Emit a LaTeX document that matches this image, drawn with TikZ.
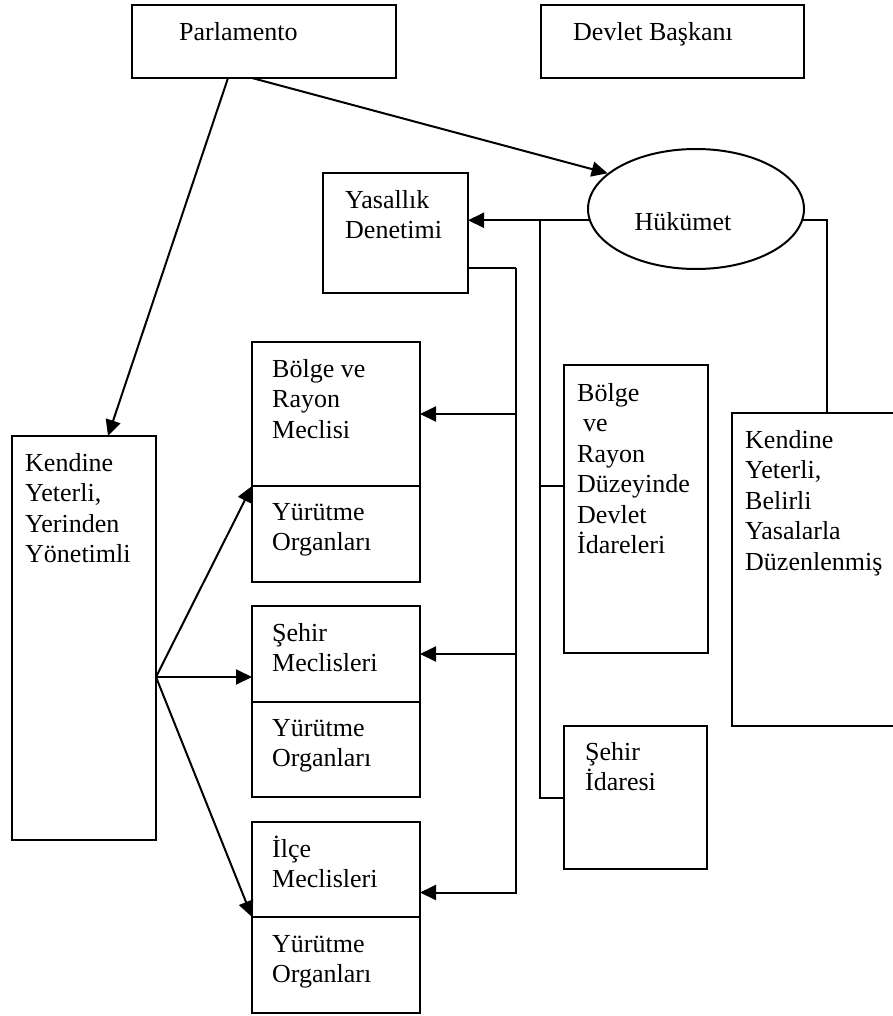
\documentclass[tikz,border=0pt]{standalone}
\usepackage{fontspec}
\setmainfont{Liberation Serif}
\usetikzlibrary{positioning,shapes.geometric,arrows.meta}
\newcommand{\lw}{2pt}
\newcommand{\colw}{168pt}
\newcommand{\firstln}{\rule{0pt}{24pt}}
\tikzset{
	box/.style={draw, rectangle, line width=\lw, anchor=north west, inner sep=0pt, outer sep=0pt},
	txt/.style={anchor=north west, align=left, inner sep=0pt, font=\fontsize{26}{30.5}\selectfont},
	conn/.style={line width=\lw},
}

\begin{document}
\begin{tikzpicture}[x=1pt, y=-1pt, >={Triangle[length=16pt,width=15pt]}]
		\useasboundingbox (0,0) rectangle (893,1016);
		% top row
		\node[box, minimum width=264pt, minimum height=73pt] (parl) at (132,5) {};
		\node[txt] (parlT) at ([shift={(47,11)}]parl.north west) {\firstln Parlamento};
		\node[box, minimum width=263pt, minimum height=73pt] (devlet) at (541,5) {};
		\node[txt] (devletT) at ([shift={(32,11)}]devlet.north west) {\firstln Devlet Başkanı};
		% government
		\node[draw, ellipse, line width=\lw, minimum width=216pt, minimum height=120pt, inner sep=0pt] (hukumet) at (696,209) {};
		\node[txt, anchor=base] (hukumetT) at ([shift={(-13,21)}]hukumet.center) {Hükümet};
		\node[box, minimum width=145pt, minimum height=120pt] (yas) at (323,173) {};
		\node[txt] (yasT) at ([shift={(22,11)}]yas.north west) {\firstln Yasallık\\Denetimi};
		% self-governing side
		\node[box, minimum width=144pt, minimum height=404pt] (kendL) at (12,436) {};
		\node[txt] (kendLT) at ([shift={(13,11)}]kendL.north west) {\firstln Kendine\\Yeterli,\\Yerinden\\Yönetimli};
		\node[box, minimum width=\colw, minimum height=144pt] (bolgeM) at (252,342) {};
		\node[box, minimum width=\colw, minimum height=96pt] (yur1) [below=0pt of bolgeM] {};
		\node[box, minimum width=\colw, minimum height=96pt] (sehirM) at (252,606) {};
		\node[box, minimum width=\colw, minimum height=95pt] (yur2) [below=0pt of sehirM] {};
		\node[box, minimum width=\colw, minimum height=95pt] (ilceM) at (252,822) {};
		\node[box, minimum width=\colw, minimum height=96pt] (yur3) [below=0pt of ilceM] {};
		\node[txt] (bolgeMT) at ([shift={(20,11)}]bolgeM.north west) {\firstln Bölge ve\\Rayon\\Meclisi};
		\node[txt] (yur1T) at ([shift={(20,10)}]yur1.north west) {\firstln Yürütme\\Organları};
		\node[txt] (sehirMT) at ([shift={(20,11)}]sehirM.north west) {\firstln Şehir\\Meclisleri};
		\node[txt] (yur2T) at ([shift={(20,10)}]yur2.north west) {\firstln Yürütme\\Organları};
		\node[txt] (ilceMT) at ([shift={(20,11)}]ilceM.north west) {\firstln İlçe\\Meclisleri};
		\node[txt] (yur3T) at ([shift={(20,11)}]yur3.north west) {\firstln Yürütme\\Organları};
		% state side
		\node[box, minimum width=144pt, minimum height=288pt] (bolgeI) at (564,365) {};
		\node[txt] (bolgeIT) at ([shift={(13,12)}]bolgeI.north west) {\firstln Bölge\\\hspace*{6pt}ve\\Rayon\\Düzeyinde\\Devlet\\İdareleri};
		\node[box, minimum width=143pt, minimum height=143pt] (sehirI) at (564,726) {};
		\node[txt] (sehirIT) at ([shift={(21,10)}]sehirI.north west) {\firstln Şehir\\İdaresi};
		\node[box, minimum width=190pt, minimum height=313pt] (kendR) at (732,413) {};
		\node[txt] (kendRT) at ([shift={(13,11)}]kendR.north west) {\firstln Kendine\\Yeterli,\\Belirli\\Yasalarla\\Düzenlenmiş};

		\coordinate (jh) at (540,221);
		\coordinate (jy) at (516,268);
		\coordinate (bI) at ([yshift=23pt]bolgeI.west);
		\coordinate (fan) at ([yshift=-39pt]kendL.east);

		\path[->, conn]
			([xshift=-36pt]parl.south) edge ([xshift=24pt]kendL.north)
			([xshift=-12pt]parl.south) edge (hukumet.158)
			(fan) edge (yur1.north west)
			(fan) edge (sehirM.west |- fan)
			(fan) edge (yur3.north west)
		;
		\draw[conn, ->] (hukumet.186) -- (hukumet.186 -| yas.east);
		\draw[conn] (jh) |- (sehirI.west);
		\draw[conn] (jh |- bI) -- (bI);
		\draw[conn] (hukumet.354) -| (kendR.north);
		\draw[conn] ([yshift=-35pt]yas.east) -- (jy);
		\draw[conn, ->] (jy) |- ([yshift=-23pt]ilceM.east);
		\draw[conn, ->] (jy |- bolgeM.east) -- (bolgeM.east);
		\draw[conn, ->] (jy |- sehirM.east) -- (sehirM.east);
	\end{tikzpicture}
\end{document}
